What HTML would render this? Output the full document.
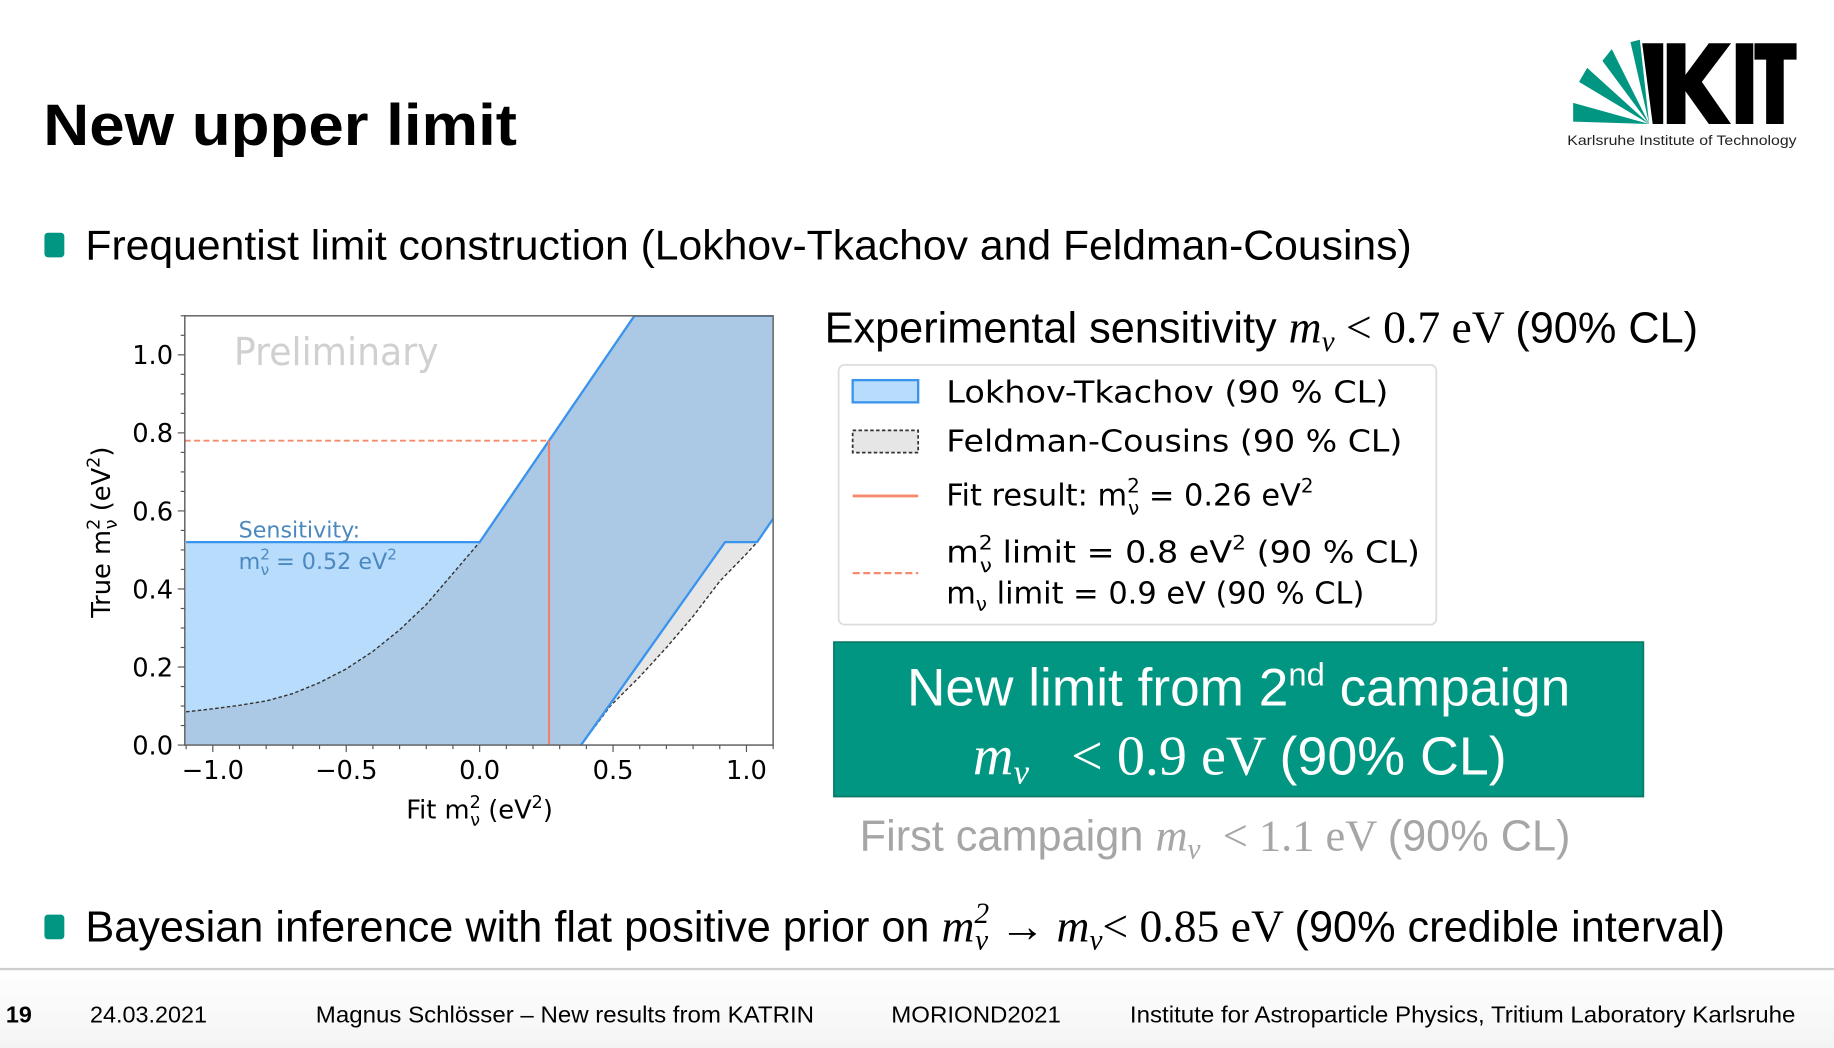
<!DOCTYPE html>
<html><head><meta charset="utf-8"><style>
html,body{margin:0;padding:0;background:#fff;width:1834px;height:1048px;overflow:hidden}
svg{display:block}
.ar{font-family:"Liberation Sans",sans-serif}
.dv{font-family:"DejaVu Sans",sans-serif}
.mi{font-family:"Liberation Serif",serif;font-style:italic}
.sr{font-family:"Liberation Serif",serif}
</style></head><body>
<svg id="root" width="1834" height="1048" viewBox="0 0 1568 896" xmlns="http://www.w3.org/2000/svg">
<defs>
<linearGradient id="fg" x1="0" y1="0" x2="0" y2="1"><stop offset="0" stop-color="#fff"/><stop offset="1" stop-color="#f4f4f4"/></linearGradient>
</defs>
<text class="ar" x="37" y="124" font-size="50" font-weight="bold" textLength="405" lengthAdjust="spacingAndGlyphs">New upper limit</text>

<g>
  <g fill="#009682">
    <polygon points="1345,88 1345,104 1410,106"/>
    <polygon points="1350,70 1357,58 1410,106"/>
    <polygon points="1370,52 1378,42 1410,106"/>
    <polygon points="1394,36 1402,34 1410,106"/>
  </g>
  <polygon fill="#000" points="1404,37 1422,37 1422,106 1413,106"/>
  <polygon fill="#000" points="1425,37 1441,37 1441,64 1461,37 1480,37 1455,70 1480,106 1461,106 1441,78 1441,106 1425,106"/>
  <rect fill="#000" x="1484" y="37" width="15" height="69"/>
  <polygon fill="#000" points="1500,37 1536,37 1536,51 1525,51 1525,106 1510,106 1510,51 1500,51"/>
  <text class="ar" x="1340" y="124" font-size="12" textLength="196" lengthAdjust="spacingAndGlyphs" fill="#222">Karlsruhe Institute of Technology</text>
</g>

<rect x="38" y="199" width="17" height="21" rx="3" fill="#009682"/>
<text class="ar" x="73" y="222" font-size="36" textLength="1134" lengthAdjust="spacingAndGlyphs">Frequentist limit construction (Lokhov-Tkachov and Feldman-Cousins)</text>

<g id="plot"></g>

<text x="705" y="293" font-size="37"><tspan class="ar">Experimental sensitivity </tspan><tspan class="mi" font-size="39">m</tspan><tspan class="mi" font-size="25" dy="7">ν</tspan><tspan class="sr" font-size="39" dy="-7"> &lt; 0.7 eV </tspan><tspan class="ar">(90% CL)</tspan></text>

<g>
  <rect x="717" y="312" width="511" height="222" rx="5" fill="#fff" stroke="#ddd" stroke-width="1.5"/>
  <rect x="729" y="325" width="56" height="19" fill="#b8dcfb" stroke="#3b94ec" stroke-width="2"/>
  <text class="dv" x="809" y="344" font-size="26" textLength="378" lengthAdjust="spacingAndGlyphs">Lokhov-Tkachov (90 % CL)</text>
  <rect x="729" y="368" width="56" height="19" fill="#e6e6e6" stroke="#333" stroke-width="1.5" stroke-dasharray="3,2"/>
  <text class="dv" x="809" y="386" font-size="26" textLength="390" lengthAdjust="spacingAndGlyphs">Feldman-Cousins (90 % CL)</text>
  <line x1="729" y1="424" x2="785" y2="424" stroke="#f58a6c" stroke-width="2.5"/>
  <text class="dv" x="809" y="432" font-size="26">Fit result:  m<tspan font-size="17" dy="-11">2</tspan><tspan font-size="17" dx="-10" dy="19">ν</tspan><tspan dy="-8"> = 0.26 eV</tspan><tspan font-size="17" dy="-11">2</tspan></text>
  <line x1="729" y1="490" x2="785" y2="490" stroke="#f58a6c" stroke-width="2" stroke-dasharray="6,3"/>
  <text class="dv" x="809" y="481" font-size="26" textLength="405" lengthAdjust="spacingAndGlyphs">m<tspan font-size="17" dy="-11">2</tspan><tspan font-size="17" dx="-10" dy="19">ν</tspan><tspan dy="-8"> limit = 0.8 eV</tspan><tspan font-size="17" dy="-11">2</tspan><tspan dy="11"> (90 % CL)</tspan></text>
  <text class="dv" x="809" y="516" font-size="26">m<tspan font-size="17" dy="6">ν</tspan><tspan dy="-6"> limit = 0.9 eV (90 % CL)</tspan></text>
</g>

<g>
  <rect x="713" y="549" width="692" height="132" fill="#009682" stroke="#0a7a68" stroke-width="1.5"/>
  <text class="ar" x="1059" y="603" font-size="45.5" fill="#fff" text-anchor="middle">New limit from 2<tspan font-size="28" dy="-17">nd</tspan><tspan dy="17"> campaign</tspan></text>
  <text x="1060" y="662" font-size="46" fill="#fff" text-anchor="middle"><tspan class="mi" font-size="48">m</tspan><tspan class="mi" font-size="30" dy="8">ν</tspan><tspan class="sr" font-size="48" dy="-8" xml:space="preserve">   &lt; 0.9 eV </tspan><tspan class="ar">(90% CL)</tspan></text>
</g>

<text x="735" y="727" font-size="37" fill="#a6a6a6" xml:space="preserve"><tspan class="ar">First campaign </tspan><tspan class="mi" font-size="38">m</tspan><tspan class="mi" font-size="25" dy="7">ν</tspan><tspan class="sr" font-size="38" dy="-7">  &lt; 1.1 eV </tspan><tspan class="ar">(90% CL)</tspan></text>

<rect x="38" y="782" width="17" height="21" rx="3" fill="#009682"/>
<text x="73" y="805" font-size="37"><tspan class="ar">Bayesian inference with flat positive prior on </tspan><tspan class="mi" font-size="39">m</tspan><tspan class="mi" font-size="25" dy="-16">2</tspan><tspan class="mi" font-size="25" dx="-12" dy="23">ν</tspan><tspan class="sr" font-size="39" dy="-7"> → </tspan><tspan class="mi" font-size="39">m</tspan><tspan class="mi" font-size="25" dy="7">ν</tspan><tspan class="sr" font-size="39" dy="-7">&lt; 0.85 eV </tspan><tspan class="ar">(90% credible interval)</tspan></text>

<rect x="0" y="828" width="1568" height="68" fill="url(#fg)"/>
<line x1="0" y1="828.5" x2="1568" y2="828.5" stroke="#cfcfcf" stroke-width="2"/>
<g class="ar" font-size="20">
  <text x="5" y="874" font-weight="bold">19</text>
  <text x="77" y="874">24.03.2021</text>
  <text x="270" y="874" textLength="426" lengthAdjust="spacingAndGlyphs">Magnus Schlösser – New results from KATRIN</text>
  <text x="762" y="874" textLength="145" lengthAdjust="spacingAndGlyphs">MORIOND2021</text>
  <text x="966" y="874" textLength="569" lengthAdjust="spacingAndGlyphs">Institute for Astroparticle Physics, Tritium Laboratory Karlsruhe</text>
</g>
</svg>
<script>
// ---- chart data ----
const xTicks = [-1.0, -0.5, 0.0, 0.5, 1.0];
const xTickLabels = ["−1.0", "−0.5", "0.0", "0.5", "1.0"];
const yTicks = [0.0, 0.2, 0.4, 0.6, 0.8, 1.0];
const yTickLabels = ["0.0", "0.2", "0.4", "0.6", "0.8", "1.0"];
const ltUpperX = [-1.1, 0.0, 0.58, 1.1];
const ltUpperY = [0.52, 0.52, 1.1, 1.1];
const ltLowerX = [0.38, 0.92, 1.04, 1.1];
const ltLowerY = [0.0, 0.52, 0.52, 0.58];
const fcUpperX = [-1.1, -1.0, -0.9, -0.8, -0.7, -0.6, -0.5, -0.4, -0.3, -0.2, -0.1, 0.0, 0.58, 1.1];
const fcUpperY = [0.085, 0.093, 0.102, 0.113, 0.132, 0.16, 0.195, 0.24, 0.295, 0.36, 0.44, 0.52, 1.1, 1.1];
const fcLowerX = [0.38, 0.49, 0.6, 0.7, 0.8, 0.9, 1.0, 1.04, 1.1];
const fcLowerY = [0.0, 0.1, 0.175, 0.25, 0.33, 0.42, 0.49, 0.52, 0.58];
const fitValue = [0.26];
const limitValue = [0.78];
const sensitivityValue = [0.52];

const X0 = 158, X1 = 661, Y0 = 637, Y1 = 270;
const xMin = -1.105, xMax = 1.1, yMin = 0, yMax = 1.1;
function sx(v){ return X0 + (v - xMin) / (xMax - xMin) * (X1 - X0); }
function sy(v){ return Y0 - (v - yMin) / (yMax - yMin) * (Y0 - Y1); }
const NS = "http://www.w3.org/2000/svg";
const plot = document.getElementById('plot');
function mk(tag, attrs, parent){ const e = document.createElementNS(NS, tag); for (const k in attrs) e.setAttribute(k, attrs[k]); (parent||plot).appendChild(e); return e; }
function pts(xs, ys){ return xs.map((x,i)=>sx(x).toFixed(1)+','+sy(ys[i]).toFixed(1)); }

const defs = mk('defs', {});
const cp = mk('clipPath', {id:'axclip'}, defs);
mk('rect', {x:X0, y:Y1, width:X1-X0, height:Y0-Y1}, cp);
const ltPoly = pts(ltUpperX, ltUpperY).concat([sx(xMax)+','+sy(ltLowerY[ltLowerY.length-1])], pts(ltLowerX, ltLowerY).reverse(), [sx(xMin)+','+sy(0)]).join(' ');
const fcPoly = pts(fcUpperX, fcUpperY).concat(pts(fcLowerX, fcLowerY).reverse(), [sx(xMin)+','+sy(0)]).join(' ');
const cpLT = mk('clipPath', {id:'ltclip'}, defs);
mk('polygon', {points: ltPoly}, cpLT);

const g = mk('g', {'clip-path':'url(#axclip)'});
const fcGray = mk('polygon', {points: fcPoly, fill:'#e6e6e6'}, g);


const lt = mk('polygon', {points: ltPoly, fill:'#b8dcfb'}, g);


const ov = mk('polygon', {points: fcPoly, fill:'#abc9e5', 'clip-path':'url(#ltclip)'}, g);


const fcU = mk('polyline', {points: pts(fcUpperX, fcUpperY).join(' '), fill:'none', stroke:'#333', 'stroke-width':1.2, 'stroke-dasharray':'3,2', 'stroke-linejoin':'round'}, g);


const fcL = mk('polyline', {points: pts(fcLowerX, fcLowerY).join(' '), fill:'none', stroke:'#333', 'stroke-width':1.2, 'stroke-dasharray':'3,2'}, g);


const ltU = mk('polyline', {points: pts(ltUpperX, ltUpperY).join(' '), fill:'none', stroke:'#3b94ec', 'stroke-width':2}, g);


const ltL = mk('polyline', {points: pts(ltLowerX, ltLowerY).join(' '), fill:'none', stroke:'#3b94ec', 'stroke-width':2}, g);


const fit = mk('line', {x1:sx(fitValue[0]), y1:sy(0), x2:sx(fitValue[0]), y2:sy(limitValue[0]), stroke:'#f0806a', 'stroke-width':1.8}, g);


const lim = mk('line', {x1:sx(xMin), y1:sy(limitValue[0]), x2:sx(fitValue[0]), y2:sy(limitValue[0]), stroke:'#f58a6c', 'stroke-width':1.6, 'stroke-dasharray':'5,3'}, g);



const prelim = mk('text', {x:200, y:312, 'font-size':33, fill:'#d0d0d0', 'font-family':'DejaVu Sans, sans-serif', textLength:175, lengthAdjust:'spacingAndGlyphs'});
prelim.textContent = 'Preliminary';


const sens = mk('text', {x:204, y:sy(sensitivityValue[0])-4, 'font-size':19, fill:'#4b88c0', 'font-family':'DejaVu Sans, sans-serif'});
sens.textContent = 'Sensitivity:';


const sens2 = mk('text', {x:204, y:sy(sensitivityValue[0])+23, 'font-size':19, fill:'#4b88c0', 'font-family':'DejaVu Sans, sans-serif'});
sens2.innerHTML = 'm<tspan font-size="13" dy="-8">2</tspan><tspan font-size="13" dx="-8" dy="13">ν</tspan><tspan dy="-5"> = 0.52 eV</tspan><tspan font-size="13" dy="-8">2</tspan>';



const frame = mk('rect', {x:X0, y:Y1, width:X1-X0, height:Y0-Y1, fill:'none', stroke:'#666', 'stroke-width':1.3});


for (let v = -1.1; v <= 1.1001; v += 0.1) {
  const vv = Math.round(v*10)/10;
  if (vv < xMin || vv > xMax) continue;
  const major = xTicks.some(t => Math.abs(t - vv) < 1e-6);
  mk('line', {x1:sx(vv), x2:sx(vv), y1:Y0, y2:Y0+(major?6:3.5), stroke:'#555', 'stroke-width':1});
}
for (let k = 0; k <= 22; k++) {
  const vv = k*0.05;
  const major = yTicks.some(t => Math.abs(t - vv) < 1e-6);
  mk('line', {x1:X0, x2:X0-(major?6:3.5), y1:sy(vv), y2:sy(vv), stroke:'#555', 'stroke-width':1});
}
xTicks.forEach((v,i)=>{
  const t = mk('text', {x:sx(v), y:666, 'font-size':22, 'text-anchor':'middle', 'font-family':'DejaVu Sans, sans-serif'});
  t.textContent = xTickLabels[i];
  
  
});
yTicks.forEach((v,i)=>{
  const t = mk('text', {x:148, y:sy(v)+8, 'font-size':22, 'text-anchor':'end', 'font-family':'DejaVu Sans, sans-serif'});
  t.textContent = yTickLabels[i];
  
  
});
const xt = mk('text', {x:410, y:700, 'font-size':22, 'text-anchor':'middle', 'font-family':'DejaVu Sans, sans-serif'});
xt.innerHTML = 'Fit m<tspan font-size="15" dy="-9">2</tspan><tspan font-size="15" dx="-9" dy="15">ν</tspan><tspan dy="-6"> (eV</tspan><tspan font-size="15" dy="-9">2</tspan><tspan dy="9">)</tspan>';


const yt = mk('text', {x:0, y:0, 'font-size':22, 'text-anchor':'middle', 'font-family':'DejaVu Sans, sans-serif', transform:'translate(94,455) rotate(-90)'});
yt.innerHTML = 'True m<tspan font-size="15" dy="-9">2</tspan><tspan font-size="15" dx="-9" dy="15">ν</tspan><tspan dy="-6"> (eV</tspan><tspan font-size="15" dy="-9">2</tspan><tspan dy="9">)</tspan>';


</script>
</body></html>
